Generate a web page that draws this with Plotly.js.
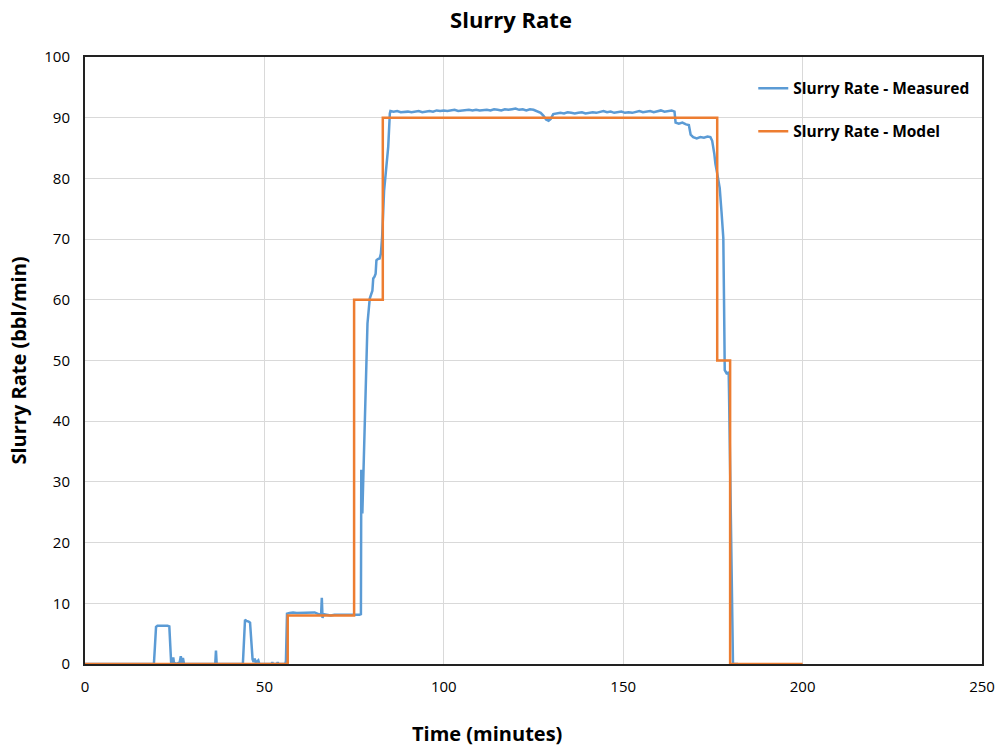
<!DOCTYPE html>
<html>
<head>
<meta charset="utf-8">
<script src="https://cdn.plot.ly/plotly-3.0.1.min.js"></script>
<style>html,body{margin:0;padding:0;background:#fff;}#chart{width:1000px;height:748px;}</style>
</head>
<body>
<div id="chart"></div>
<script>
// Model (step) series
const modelTime = [0, 56.5, 56.5, 75, 75, 83, 83, 176.2, 176.2, 179.8, 179.8, 200];
const modelRate = [0, 0, 8, 8, 60, 60, 90, 90, 50, 50, 0, 0];

// Measured series
const measTime = [
  0, 19.2, 19.5, 19.8, 20.2, 21, 22, 23, 23.5, 23.8, 24.0, 24.4, 24.6, 24.8, 25.5,
  26.4, 26.7, 27.0, 27.3, 27.6, 36.3, 36.5, 36.7, 44.0, 44.3, 44.6, 45.0, 45.6, 46.0,
  46.4, 46.7, 47.0, 47.3, 47.6, 48.3, 48.6, 52, 52.2, 52.4, 53.5, 53.7, 53.9, 55.8,
  56.0, 56.3, 57, 58, 59, 60, 61, 62, 63, 64, 64.8, 65.3, 65.8, 66.0, 66.2, 66.5,
  67.5, 68.5, 69.5, 70.5, 71.5, 72.5, 73.5, 74.5, 75.5, 76.5, 76.9, 77.0, 77.1, 77.2,
  77.3, 77.67, 78.02, 78.38, 78.73, 79.36, 79.8, 80.1, 80.33, 80.69, 81.0, 81.22, 81.6,
  82.11, 82.47, 82.82, 83.36, 83.89, 84.24, 84.51, 84.96, 85.13,
  86, 87, 88, 89, 90, 91, 92, 93, 94, 95, 96, 97, 98, 99, 100, 101, 102, 103, 104,
  105, 106, 107, 108, 109, 110, 111, 112, 113, 114, 115, 116, 117, 118, 119, 120, 121,
  122, 123, 124, 125, 126, 127, 127.8, 128.5, 129.2, 129.8, 130.5, 131.5, 132.5, 133.5,
  134.5, 135.5, 136.5, 137.5, 138.5, 139.5, 140.5, 141.5, 142.5, 143.5, 144.5, 145.5,
  146.5, 147.5, 148.5, 149.5, 150.5, 151.5, 152.5, 153.5, 154.5, 155.5, 156.5, 157.5,
  158.5, 159.5, 160.5, 161.5, 162.5, 163.5, 164.3, 164.6, 165.5, 166.5, 167.5, 168.3,
  168.8, 169.5, 170.5, 171.5, 172.5, 173.5, 174.3, 174.8, 175.4, 175.7, 176.3, 176.9,
  177.4, 177.9, 178.1, 178.3, 178.8, 179.4, 179.5, 180.0, 180.6, 182
];
const measRate = [
  0, 0, 3, 6.1, 6.3, 6.3, 6.4, 6.3, 6.2, 3, 0.3, 0.2, 1.1, 0.2, 0,
  0.3, 1.3, 0.2, 1.0, 0, 0, 2.2, 0, 0, 4, 7.3, 7.1, 7.0, 6.8,
  3, 0.8, 0.3, 0.9, 0.2, 0.6, 0, 0, 0.3, 0, 0, 0.3, 0, 0,
  0.5, 8.3, 8.4, 8.5, 8.4, 8.4, 8.5, 8.4, 8.4, 8.5, 8.3, 8.2, 8.1, 10.9, 7.6, 8.2,
  8.1, 8.0, 8.1, 8.1, 8.0, 8.1, 8.0, 8.1, 8.0, 8.1, 8.2, 32.0, 25.0, 31.5,
  24.8, 34.2, 42.4, 50.7, 56.1, 60.2, 61.0, 61.5, 63.5, 63.8, 64.3, 66.5, 66.7,
  66.8, 67.6, 70.4, 78.0, 81.3, 84.6, 85.2, 90.7, 91.1,
  91.0, 91.1, 90.9, 91.0, 91.0, 90.9, 91.0, 91.1, 90.9, 91.0, 91.1, 91.0, 91.2, 91.1, 91.2, 91.1, 91.2, 91.3, 91.1,
  91.2, 91.2, 91.3, 91.2, 91.3, 91.2, 91.3, 91.3, 91.2, 91.4, 91.3, 91.2, 91.4, 91.3, 91.4, 91.5, 91.3,
  91.4, 91.2, 91.4, 91.3, 91.1, 90.8, 90.3, 89.7, 89.5, 89.8, 90.6, 90.7, 90.8, 90.7,
  90.9, 90.8, 90.7, 90.8, 90.9, 90.7, 90.8, 90.9, 90.8, 91.0, 91.1, 90.9,
  91.0, 90.8, 90.9, 91.0, 90.8, 90.9, 90.8, 91.0, 91.1, 90.9, 91.0, 91.1,
  90.9, 91.1, 91.2, 91.0, 91.1, 91.2, 91.0, 89.2, 89.0, 89.2, 88.9, 88.8,
  87.2, 86.8, 86.6, 86.8, 86.7, 86.9, 86.8, 86.2, 84.0, 82.4, 80.5, 78.4,
  74.5, 70.2, 60, 48.4, 47.9, 48.0, 44.5, 20, 0, 0
];

const xTicks = [0, 50, 100, 150, 200, 250];
const yTicks = [0, 10, 20, 30, 40, 50, 60, 70, 80, 90, 100];

const FONT = 'Open Sans, Liberation Sans, sans-serif';

const traces = [
  {
    x: measTime, y: measRate, type: 'scatter', mode: 'lines',
    name: '<b>Slurry Rate - Measured</b>',
    line: {color: '#5B9BD5', width: 2.5},
    legendgroup: 'a'
  },
  {
    x: modelTime, y: modelRate, type: 'scatter', mode: 'lines',
    name: '<b>Slurry Rate - Model</b>',
    line: {color: '#ED7D31', width: 2.5},
    legendgroup: 'b'
  }
];

const layout = {
  width: 1000, height: 748,
  margin: {l: 85, r: 18, t: 57, b: 84},
  paper_bgcolor: '#fff', plot_bgcolor: '#fff',
  font: {family: FONT, color: '#000', size: 15},
  title: {
    text: '<b>Slurry Rate</b>',
    font: {family: FONT, size: 22, color: '#000'},
    x: (511 - 85) / 897, xref: 'paper', xanchor: 'center',
    y: 1 - 20 / 748, yref: 'container', yanchor: 'middle'
  },
  xaxis: {
    range: [0, 250], tickvals: xTicks, ticktext: xTicks.map(String),
    showgrid: true, gridcolor: '#d9d9d9', gridwidth: 1,
    zeroline: false, showline: true, linecolor: '#222', linewidth: 2, mirror: true,
    ticks: 'outside', ticklen: 8, tickcolor: 'rgba(0,0,0,0)',
    tickfont: {family: FONT, size: 15, color: '#000'}
  },
  yaxis: {
    range: [0, 100], tickvals: yTicks, ticktext: yTicks.map(String),
    showgrid: true, gridcolor: '#d9d9d9', gridwidth: 1,
    zeroline: false, showline: true, linecolor: '#222', linewidth: 2, mirror: true,
    ticks: 'outside', ticklen: 10, tickcolor: 'rgba(0,0,0,0)',
    tickfont: {family: FONT, size: 15, color: '#000'},
    title: {text: '<b>Slurry Rate (bbl/min)</b>', font: {family: FONT, size: 20, color: '#000'}, standoff: 12}
  },
  annotations: [{
    text: '<b>Time (minutes)</b>', xref: 'paper', yref: 'paper',
    x: (487 - 85) / 897, y: -(733 - 664) / 607, xanchor: 'center', yanchor: 'middle',
    showarrow: false, font: {family: FONT, size: 20, color: '#000'}
  }],
  showlegend: true,
  legend: {
    x: 0.745, xanchor: 'left', y: 0.976, yanchor: 'top',
    bgcolor: 'rgba(0,0,0,0)', borderwidth: 0,
    traceorder: 'grouped', tracegroupgap: 20,
    font: {family: FONT, size: 15.5, color: '#000'}
  }
};

Plotly.newPlot('chart', traces, layout, {displayModeBar: false, staticPlot: true});
</script>
</body>
</html>
